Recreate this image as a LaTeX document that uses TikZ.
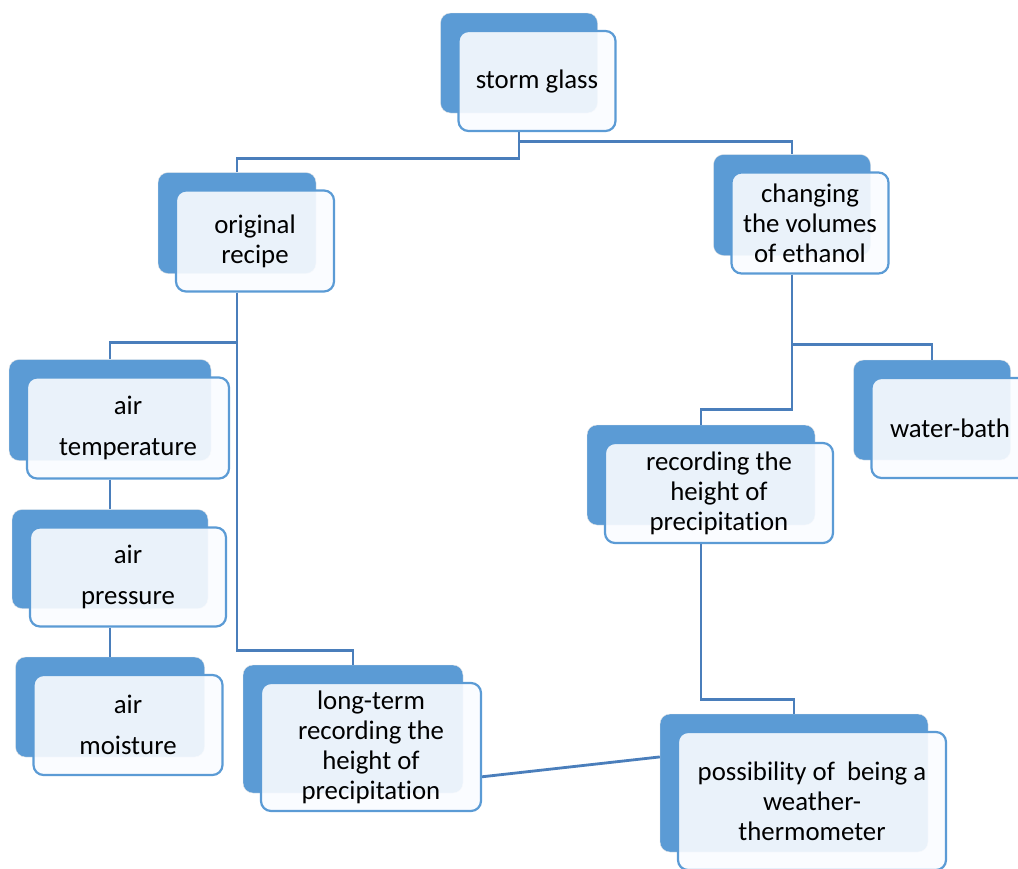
\documentclass[tikz,border=0pt]{standalone}
\usepackage{fontspec}
\setmainfont[Ligatures=NoCommon]{Carlito}
\usepackage{xcolor}
\usepackage{tikz}
\usetikzlibrary{calc,positioning}
\definecolor{boxblue}{RGB}{91,155,213}
\definecolor{linkblue}{RGB}{74,126,187}
\definecolor{paleblue}{RGB}{250,252,255}
\tikzset{%
	backbox/.style  = {draw=black!10, fill=boxblue, rounded corners=10pt, inner sep=0pt},
	frontbox/.style = {draw=boxblue, line width=2.2pt, fill=paleblue, fill opacity=0.9, text opacity=1, rounded corners=10pt, inner sep=0pt, align=center, font=\fontsize{26.8}{30}\selectfont},
	link/.style     = {draw=linkblue, line width=2.8pt},
}

\begin{document}
\begin{tikzpicture}[x=1pt,y=-1pt]
			\useasboundingbox (0,0) rectangle (1018,868);
			\clip (0,0) rectangle (1018,868);
			
			% top
			\node[backbox, minimum width=157pt, minimum height=100pt] (stormback) at (519,63) {};
			\node[frontbox, minimum width=157pt, minimum height=100pt] (storm) at ($(stormback)+(18,18)$) {storm glass};
			
			% left branch
			\node[backbox, minimum width=158pt, minimum height=101pt] (recipeback) at (237,223) {};
			\node[frontbox, minimum width=158pt, minimum height=101pt] (recipe) at ($(recipeback)+(18,18)$) {original\\recipe};
			\node[backbox, minimum width=202pt, minimum height=101pt] (airtempback) at (110,410) {};
			\node[frontbox, minimum width=202pt, minimum height=101pt] (airtemp) at ($(airtempback)+(18,18)$) {air\\[11pt]temperature};
			\node[backbox, minimum width=196pt, minimum height=99pt] (airpresback) at (110,559) {};
			\node[frontbox, minimum width=196pt, minimum height=99pt] (airpres) at ($(airpresback)+(18,18)$) {air\\[11pt]pressure};
			\node[backbox, minimum width=189pt, minimum height=100pt] (airmoistback) at (110,707) {};
			\node[frontbox, minimum width=189pt, minimum height=100pt] (airmoist) at ($(airmoistback)+(18,18)$) {air\\[11pt]moisture};
			\node[backbox, minimum width=220pt, minimum height=128pt] (longtermback) at (353,729) {};
			\node[frontbox, minimum width=220pt, minimum height=128pt] (longterm) at ($(longtermback)+(18,18)$) {long-term\\recording the\\height of\\precipitation};
			
			% right branch
			\node[backbox, minimum width=157pt, minimum height=101pt] (ethanolback) at (792,205) {};
			\node[frontbox, minimum width=157pt, minimum height=101pt] (ethanol) at ($(ethanolback)+(18,18)$) {changing\\the volumes\\of ethanol};
			\node[backbox, minimum width=157pt, minimum height=100pt] (waterbathback) at (932,410) {};
			\node[frontbox, minimum width=157pt, minimum height=100pt] (waterbath) at ($(waterbathback)+(18,18)$) {water-bath};
			\node[backbox, minimum width=228pt, minimum height=100pt] (recordingback) at (701,475) {};
			\node[frontbox, minimum width=228pt, minimum height=100pt] (recording) at ($(recordingback)+(18,18)$) {recording the\\height of\\precipitation};
			\node[backbox, minimum width=268pt, minimum height=138pt] (possibleback) at (794,783) {};
			\node[frontbox, minimum width=268pt, minimum height=138pt] (possible) at ($(possibleback)+(18,18)$) {possibility of~ being a\\weather-\\thermometer};
			
			% connectors
			\draw[link] (storm.south -| stormback.south) -- ++(0,26) -| (recipeback.north);
			\draw[link] ($(storm.south -| stormback.south)+(0,9)$) -| (ethanolback.north);
			\draw[link] (recipe.south -| recipeback.south) -- ++(0,50) -| (airtempback.north);
			\draw[link] (recipe.south -| recipeback.south) -- ++(0,358) -| (longtermback.north);
			\draw[link] (airtemp.south -| airtempback.south) -- (airpresback.north);
			\draw[link] (airpres.south -| airpresback.south) -- (airmoistback.north);
			\draw[link] (ethanol.south -| ethanolback.south) -- ++(0,70) -| (waterbathback.north);
			\draw[link] (ethanol.south -| ethanolback.south) -- ++(0,135) -| (recordingback.north);
			\draw[link] (recording.south -| recordingback.south) -- ++(0,155) -| (possibleback.north);
			\draw[link] (longterm.-15.6) -- (possibleback.169);
\end{tikzpicture}
\end{document}
